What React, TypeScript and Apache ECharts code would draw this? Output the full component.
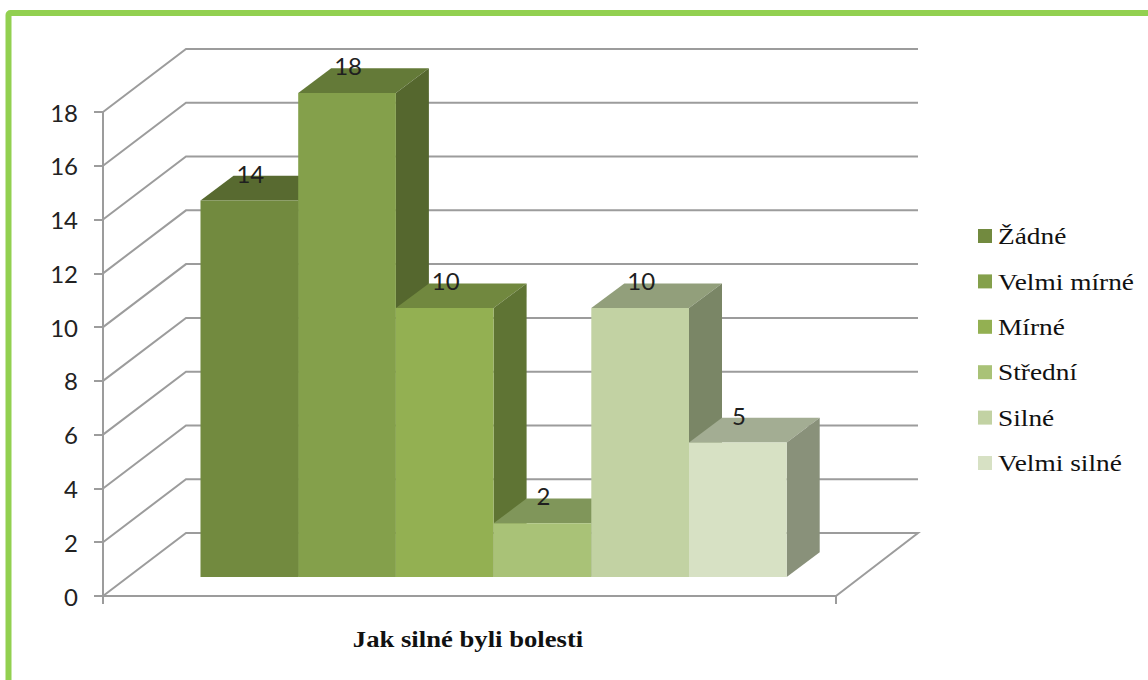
import React, { useEffect, useRef } from "react";
import * as echarts from "echarts";

const levels = ["Žádné", "Velmi mírné", "Mírné", "Střední", "Silné", "Velmi silné"];
const counts = [14, 18, 10, 2, 10, 5];
const frontColors = ["#728A3F", "#84A04B", "#93B052", "#A9C277", "#C2D2A3", "#D7E1C4"];
const topColors = ["#586A30", "#647A38", "#71883F", "#80965A", "#929F7B", "#A3AD93"];
const sideColors = ["#4F5F2B", "#55672E", "#5F7434", "#6B8048", "#7A8666", "#89917A"];
const axisTicks = [0, 2, 4, 6, 8, 10, 12, 14, 16, 18];
const axisTitle = "Jak silné byli bolesti";

const GRID = { left: 103, top: 112, width: 733, height: 484 };
const WALL = { dx: 83, dy: 63 };
const BAR_DEPTH = { dx: 33, dy: 24.7 };
const BAR_PLANE = { dx: 25, dy: 19 };
const BAR_START = 97.5;
const BAR_WIDTH = 97.7;
const AXIS_GRAY = "#9C9C9C";
const LEGEND = { x: 978, y: 229, swatch: 14, step: 45.4, textX: 998, stretch: 1.19 };

// Perspective side wall and back wall, one polyline per axis tick; the zero tick also closes the floor.
function renderWall(_params: any, api: any) {
  const value = api.value(0);
  const y = api.coord([0, value])[1];
  const left = GRID.left;
  const right = left + GRID.width;
  const points = [
    [left, y],
    [left + WALL.dx, y - WALL.dy],
    [right + WALL.dx - 1, y - WALL.dy],
  ];
  if (value === 0) points.push([right, y]);
  return {
    type: "polyline",
    silent: true,
    shape: { points },
    style: { fill: "none", stroke: AXIS_GRAY, lineWidth: 2 },
  };
}

// One extruded bar: top face, side face, front face and its value label.
function barRenderer(index: number) {
  return (_params: any, api: any) => {
    const value = api.value(1);
    const base = api.coord([0, 0]);
    const head = api.coord([0, value]);
    const x = GRID.left + BAR_START + index * BAR_WIDTH;
    const yBase = base[1] - BAR_PLANE.dy;
    const yTop = head[1] - BAR_PLANE.dy;
    const xEnd = x + BAR_WIDTH;
    const { dx, dy } = BAR_DEPTH;
    return {
      type: "group",
      children: [
        {
          type: "polygon",
          shape: { points: [[x, yTop], [x + dx, yTop - dy], [xEnd + dx, yTop - dy], [xEnd, yTop]] },
          style: { fill: topColors[index] },
        },
        {
          type: "polygon",
          shape: { points: [[xEnd, yTop], [xEnd + dx, yTop - dy], [xEnd + dx, yBase - dy], [xEnd, yBase]] },
          style: { fill: sideColors[index] },
        },
        {
          type: "rect",
          shape: { x, y: yTop, width: BAR_WIDTH, height: yBase - yTop },
          style: { fill: frontColors[index] },
        },
        {
          type: "text",
          style: {
            x: x + BAR_WIDTH / 2 + 1,
            y: yTop - 27.5,
            text: String(value),
            fill: "#1f1f1f",
            font: "24px Lato",
            align: "center",
            verticalAlign: "middle",
          },
        },
      ],
    };
  };
}

// Key entries: a swatch and a horizontally widened serif label per pain level.
function legendEntries() {
  return levels.flatMap((name, i) => {
    const top = LEGEND.y + i * LEGEND.step;
    return [
      {
        type: "rect",
        silent: true,
        shape: { x: LEGEND.x, y: top, width: LEGEND.swatch, height: LEGEND.swatch },
        style: { fill: frontColors[i] },
      },
      {
        type: "text",
        silent: true,
        x: LEGEND.textX,
        y: top + LEGEND.swatch / 2,
        scaleX: LEGEND.stretch,
        style: {
          text: name,
          font: "23px 'Liberation Serif'",
          fill: "#111",
          verticalAlign: "middle",
        },
      },
    ];
  });
}

export default function App() {
  const ref = useRef<HTMLDivElement>(null);

  useEffect(() => {
    const chart = echarts.init(ref.current!, undefined, { renderer: "svg" });
    chart.setOption({
      animation: false,
      backgroundColor: "#ffffff",
      graphic: [
        {
          type: "rect",
          silent: true,
          z: 0,
          shape: { x: 8.5, y: 13, width: 1160, height: 700, r: 2 },
          style: { fill: "none", stroke: "#92D050", lineWidth: 6 },
        },
        ...legendEntries(),
        {
          type: "text",
          silent: true,
          x: 468,
          y: 639,
          scaleX: 1.16,
          style: {
            text: axisTitle,
            font: "bold 23px 'Liberation Serif'",
            fill: "#111",
            align: "center",
            verticalAlign: "middle",
          },
        },
      ],
      grid: { ...GRID },
      xAxis: {
        type: "category",
        data: [axisTitle],
        boundaryGap: true,
        axisLine: { show: true, lineStyle: { color: AXIS_GRAY, width: 2 } },
        axisTick: { show: true, length: 8, lineStyle: { color: AXIS_GRAY, width: 2 } },
        axisLabel: { show: false },
      },
      yAxis: {
        type: "value",
        min: 0,
        max: 18,
        interval: 2,
        axisLine: { show: true, lineStyle: { color: AXIS_GRAY, width: 2 } },
        axisTick: { show: true, length: 9, lineStyle: { color: AXIS_GRAY, width: 2 } },
        splitLine: { show: false },
        axisLabel: { color: "#222", fontFamily: "Lato", fontSize: 24, margin: 25, padding: [4, 0, 0, 0] },
      },
      series: [
        {
          type: "custom",
          name: "wall",
          coordinateSystem: "cartesian2d",
          renderItem: renderWall,
          encode: { y: 0 },
          data: axisTicks.map((t) => [t]),
          z: 1,
        },
        ...levels.map((name, i) => ({
          type: "custom",
          name,
          coordinateSystem: "cartesian2d",
          renderItem: barRenderer(i),
          encode: { x: 0, y: 1 },
          data: [[0, counts[i]]],
          itemStyle: { color: frontColors[i] },
          z: 2,
        })),
      ],
    });
    return () => chart.dispose();
  }, []);

  return <div ref={ref} style={{ position: "fixed", left: 0, top: 0, width: 1148, height: 680 }} />;
}
